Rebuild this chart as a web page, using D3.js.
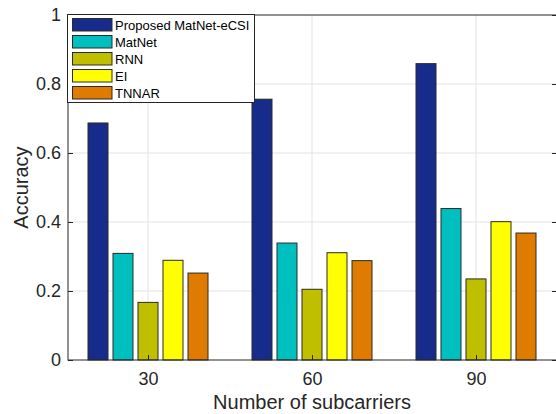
<!DOCTYPE html>
<html>
<head>
<meta charset="utf-8">
<script src="https://cdn.jsdelivr.net/npm/d3@7"></script>
<style>
  body { margin: 0; background: #fff; }
  svg { display: block; font-family: "Liberation Sans", Arial, Helvetica, sans-serif; }
</style>
</head>
<body>
<svg id="chart" width="556" height="414"></svg>
<script>
let categories = ['30', '60', '90']
let seriesNames = ['Proposed MatNet-eCSI', 'MatNet', 'RNN', 'EI', 'TNNAR']
let seriesColors = ['#162b8a', '#00c0bf', '#bfbf00', '#ffff00', '#df7b00']

let proposed = [0.687, 0.756, 0.859]
let matnet = [0.309, 0.339, 0.439]
let rnn = [0.167, 0.205, 0.235]
let ei = [0.289, 0.311, 0.401]
let tnnar = [0.252, 0.288, 0.368]
let seriesValues = [proposed, matnet, rnn, ei, tnnar]

let yTicks = [0, 0.2, 0.4, 0.6, 0.8, 1]

let svg = d3.select('#chart')
let textColor = '#262626'

let plotLeft = 68, plotRight = 557, plotTop = 15, plotBottom = 360

let x = d3.scaleBand().domain(categories).range([66, 558])
let xSub = d3.scaleBand().domain(seriesNames).range([-60, 60]).paddingInner(0.2)
let y = d3.scaleLinear().domain([0, 1]).range([plotBottom, plotTop])
let xMid = d => x(d) + x.bandwidth() / 2

// grid
svg.append('g')
  .selectAll('line')
  .data(yTicks.filter(t => t > 0 && t < 1))
  .enter()
  .append('line')
  .attr('x1', plotLeft).attr('x2', plotRight)
  .attr('y1', d => y(d)).attr('y2', d => y(d))
  .attr('stroke', '#e3e3e3')
svg.append('g')
  .selectAll('line')
  .data(categories)
  .enter()
  .append('line')
  .attr('x1', xMid).attr('x2', xMid)
  .attr('y1', plotTop).attr('y2', plotBottom)
  .attr('stroke', '#e3e3e3')

// bars
let bars = []
categories.forEach((c, ci) => {
  seriesNames.forEach((s, si) => {
    bars.push({ cat: c, name: s, value: seriesValues[si][ci], color: seriesColors[si] })
  })
})

svg.append('g')
  .selectAll('rect')
  .data(bars)
  .enter()
  .append('rect')
  .attr('x', d => xMid(d.cat) + xSub(d.name))
  .attr('width', xSub.bandwidth())
  .attr('y', d => y(d.value))
  .attr('height', d => y(0) - y(d.value))
  .attr('fill', d => d.color)
  .attr('stroke', '#2a2a2a')
  .attr('stroke-width', 1)

// axes
let yAxisL = d3.axisLeft(y).tickValues(yTicks).tickSize(-5).tickPadding(7).tickFormat(d3.format('~g'))
let yAxisR = d3.axisRight(y).tickValues(yTicks).tickSize(-5).tickFormat('')
let xPoint = d3.scalePoint().domain(categories).range([xMid('30'), xMid('90')])
let xAxis = d3.axisBottom(xPoint).tickSize(-5).tickPadding(12)

let gl = svg.append('g').attr('transform', `translate(${plotLeft},0)`).call(yAxisL)
let gr = svg.append('g').attr('transform', `translate(${plotRight},0)`).call(yAxisR)
let gb = svg.append('g').attr('transform', `translate(0,${plotBottom})`).call(xAxis)

;[gl, gr, gb].forEach(g => {
  g.select('.domain').remove()
  g.selectAll('line').attr('stroke', textColor)
  g.selectAll('text').attr('fill', textColor).style('font-size', '18px').style('font-family', '"Liberation Sans", Arial, sans-serif')
})

// box
svg.append('rect')
  .attr('x', plotLeft).attr('y', plotTop)
  .attr('width', plotRight - plotLeft).attr('height', plotBottom - plotTop)
  .attr('fill', 'none').attr('stroke', textColor)

// labels
svg.append('text')
  .attr('x', (plotLeft + 556) / 2).attr('y', 409)
  .attr('text-anchor', 'middle')
  .attr('fill', textColor)
  .style('font-size', '20px')
  .text('Number of subcarriers')
svg.append('text')
  .attr('transform', `translate(28,${(plotTop + plotBottom) / 2}) rotate(-90)`)
  .attr('text-anchor', 'middle')
  .attr('fill', textColor)
  .style('font-size', '20px')
  .text('Accuracy')

// legend
let legend = svg.append('g')
legend.append('rect')
  .attr('x', 67.5).attr('y', 14.5)
  .attr('width', 187).attr('height', 88)
  .attr('fill', '#fff').attr('stroke', textColor)
let items = legend.selectAll('g.item')
  .data(seriesNames)
  .enter()
  .append('g')
  .attr('class', 'item')
  .attr('transform', (d, i) => `translate(0,${18.5 + i * 17})`)
items.append('rect')
  .attr('x', 72.5).attr('y', 0)
  .attr('width', 39.5).attr('height', 12.5)
  .attr('fill', (d, i) => seriesColors[i])
  .attr('stroke', '#2a2a2a')
items.append('text')
  .attr('x', 115).attr('y', 11)
  .attr('fill', '#000')
  .style('font-size', '13px')
  .text(d => d)
</script>
</body>
</html>
